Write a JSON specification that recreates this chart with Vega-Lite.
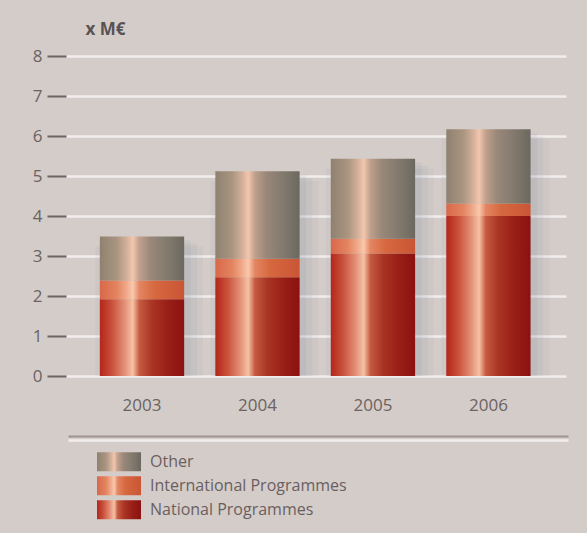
{
  "$schema": "https://vega.github.io/schema/vega-lite/v6.json",
  "width": 500,
  "height": 320,
  "autosize": {"type": "none"},
  "padding": {"left": 68, "top": 56, "right": 19, "bottom": 157},
  "background": "#d4ccc9",
  "config": {
    "view": {"stroke": null},
    "font": "Open Sans",
    "axisY": {
      "titleAngle": 0,
      "titleX": 39,
      "titleY": -27,
      "titleAlign": "center",
      "titleBaseline": "middle",
      "titleFontSize": 17,
      "titleFontWeight": "bold",
      "titleFont": "Open Sans",
      "titleColor": "#5a5252",
      "grid": true,
      "gridColor": "#f2eeee",
      "gridWidth": 2.5,
      "domain": false,
      "ticks": true,
      "tickSize": 19,
      "tickWidth": 2,
      "tickColor": "#6d6563",
      "offset": 2,
      "labelPadding": 5,
      "labelFontSize": 17,
      "labelFont": "Open Sans",
      "labelColor": "#6b6361"
    }
  },
  "data": {
    "values": [
      {"year": "2003", "category": "National Programmes", "rank": 1, "value": 1.92},
      {"year": "2003", "category": "International Programmes", "rank": 2, "value": 0.47},
      {"year": "2003", "category": "Other", "rank": 3, "value": 1.1},
      {"year": "2004", "category": "National Programmes", "rank": 1, "value": 2.47},
      {"year": "2004", "category": "International Programmes", "rank": 2, "value": 0.46},
      {"year": "2004", "category": "Other", "rank": 3, "value": 2.19},
      {"year": "2005", "category": "National Programmes", "rank": 1, "value": 3.06},
      {"year": "2005", "category": "International Programmes", "rank": 2, "value": 0.37},
      {"year": "2005", "category": "Other", "rank": 3, "value": 2.0},
      {"year": "2006", "category": "National Programmes", "rank": 1, "value": 4.0},
      {"year": "2006", "category": "International Programmes", "rank": 2, "value": 0.31},
      {"year": "2006", "category": "Other", "rank": 3, "value": 1.86}
    ]
  },
  "resolve": {"axis": {"x": "independent"}},
  "layer": [
    {
      "mark": {"type": "bar", "color": "#7f8ba0", "opacity": 0.07, "width": {"band": 1.28}, "xOffset": 7, "yOffset": 10, "y2Offset": 17},
      "encoding": {
        "x": {
          "field": "year",
          "type": "nominal",
          "scale": {"paddingInner": 0.27, "paddingOuter": 0.3, "align": 0.46},
          "axis": {
            "title": null,
            "orient": "bottom",
            "offset": 64,
            "domain": true,
            "domainColor": "#f3eeee",
            "domainWidth": 2.5,
            "ticks": false,
            "labels": false,
            "grid": false
          }
        },
        "y": {"aggregate": "sum", "field": "value", "type": "quantitative", "scale": {"domain": [0, 8], "nice": false}, "axis": {"title": "x M€", "values": [0, 1, 2, 3, 4, 5, 6, 7, 8]}}
      }
    },
    {
      "mark": {"type": "bar", "color": "#7f8ba0", "opacity": 0.09, "width": {"band": 1.16}, "xOffset": 6, "yOffset": 7, "y2Offset": 12},
      "encoding": {
        "x": {"field": "year", "type": "nominal", "scale": {"paddingInner": 0.27, "paddingOuter": 0.3, "align": 0.46}, "axis": null},
        "y": {"aggregate": "sum", "field": "value", "type": "quantitative", "scale": {"domain": [0, 8], "nice": false}, "axis": {"title": "x M€", "values": [0, 1, 2, 3, 4, 5, 6, 7, 8]}}
      }
    },
    {
      "mark": {"type": "bar", "color": "#7f8ba0", "opacity": 0.11, "width": {"band": 1.06}, "xOffset": 4, "yOffset": 4, "y2Offset": 7},
      "encoding": {
        "x": {"field": "year", "type": "nominal", "scale": {"paddingInner": 0.27, "paddingOuter": 0.3, "align": 0.46}, "axis": null},
        "y": {"aggregate": "sum", "field": "value", "type": "quantitative", "scale": {"domain": [0, 8], "nice": false}, "axis": {"title": "x M€", "values": [0, 1, 2, 3, 4, 5, 6, 7, 8]}}
      }
    },
    {
      "mark": {"type": "bar"},
      "encoding": {
        "x": {
          "field": "year",
          "type": "nominal",
          "scale": {"paddingInner": 0.27, "paddingOuter": 0.3, "align": 0.46},
          "axis": {
            "title": null,
            "orient": "bottom",
            "offset": 60,
            "domain": true,
            "domainColor": "#9d928f",
            "domainWidth": 2,
            "ticks": false,
            "tickSize": 0,
            "grid": false,
            "labelPadding": -31,
            "labelAngle": 0,
            "labelBaseline": "middle",
            "labelFontSize": 17,
            "labelFont": "Open Sans",
            "labelColor": "#6b6361"
          }
        },
        "y": {
          "field": "value",
          "type": "quantitative",
          "stack": "zero",
          "scale": {"domain": [0, 8], "nice": false},
          "axis": {"title": "x M€", "values": [0, 1, 2, 3, 4, 5, 6, 7, 8]}
        },
        "order": {"field": "rank", "type": "quantitative", "sort": "ascending"},
        "fill": {
          "field": "category",
          "type": "nominal",
          "scale": {
            "domain": ["Other", "International Programmes", "National Programmes"],
            "range": [
              {"expr": "{gradient:'linear',x1:0,y1:0,x2:1,y2:0,stops:[{offset:0,color:'#8f8170'},{offset:0.2,color:'#a99580'},{offset:0.32,color:'#d3b09a'},{offset:0.39,color:'#f3c6ae'},{offset:0.47,color:'#bfa08c'},{offset:0.6,color:'#9a887a'},{offset:0.8,color:'#827a6e'},{offset:1,color:'#6c685f'}]}"},
              {"expr": "{gradient:'linear',x1:0,y1:0,x2:1,y2:0,stops:[{offset:0,color:'#d8684a'},{offset:0.2,color:'#e3845f'},{offset:0.32,color:'#f0ab8c'},{offset:0.39,color:'#f9c8ac'},{offset:0.47,color:'#e38562'},{offset:0.65,color:'#d6683f'},{offset:1,color:'#c95535'}]}"},
              {"expr": "{gradient:'linear',x1:0,y1:0,x2:1,y2:0,stops:[{offset:0,color:'#b3261b'},{offset:0.14,color:'#c9503a'},{offset:0.3,color:'#e4927a'},{offset:0.39,color:'#f6c2a5'},{offset:0.47,color:'#c45a40'},{offset:0.62,color:'#a93424'},{offset:0.82,color:'#981d16'},{offset:1,color:'#8b1210'}]}"}
            ]
          },
          "legend": {
            "title": null,
            "orient": "none",
            "legendX": 29,
            "legendY": 394,
            "padding": 0,
            "symbolType": "M-1,-0.43H1V0.43H-1Z",
            "symbolSize": 1936,
            "symbolStrokeWidth": 0,
            "symbolOpacity": 1,
            "clipHeight": 23.5,
            "rowPadding": 0,
            "labelOffset": 9,
            "labelLimit": 300,
            "labelFontSize": 16,
            "labelFont": "Open Sans",
            "labelColor": "#6a5f60"
          }
        }
      }
    }
  ]
}
